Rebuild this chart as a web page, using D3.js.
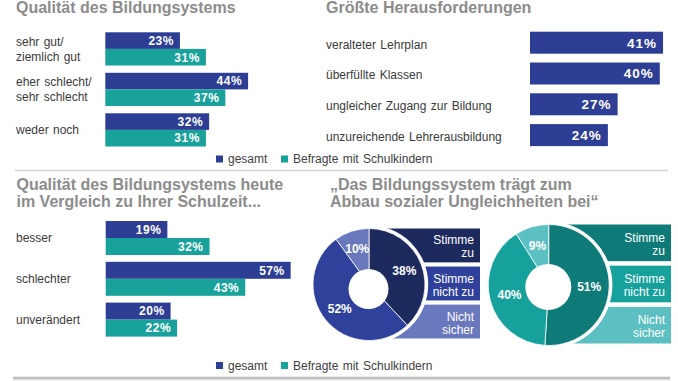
<!DOCTYPE html>
<html>
<head>
<meta charset="utf-8">
<script src="https://cdn.jsdelivr.net/npm/d3@7"></script>
<style>
html,body{margin:0;padding:0;background:#fff;}
svg{display:block;font-family:"Liberation Sans",Arial,sans-serif;}
</style>
</head>
<body>
<svg id="chart" width="678" height="381"></svg>
<script>
// ---- data ----
const seriesNames = ["gesamt", "Befragte mit Schulkindern"];
const qualCats = [["sehr gut/", "ziemlich gut"], ["eher schlecht/", "sehr schlecht"], ["weder noch"]];
const qualGesamt = [23, 44, 32];
const qualEltern = [31, 37, 31];
const challCats = ["veralteter Lehrplan", "überfüllte Klassen", "ungleicher Zugang zur Bildung", "unzureichende Lehrerausbildung"];
const challValues = [41, 40, 27, 24];
const compCats = ["besser", "schlechter", "unverändert"];
const compGesamt = [19, 57, 20];
const compEltern = [32, 43, 22];
const donutCats = [["Stimme", "zu"], ["Stimme", "nicht zu"], ["Nicht", "sicher"]];
const donutGesamt = [38, 52, 10];
const donutEltern = [51, 40, 9];
const titles = {
  qual: ["Qualität des Bildungsystems"],
  chall: ["Größte Herausforderungen"],
  comp: ["Qualität des Bildungsystems heute", "im Vergleich zu Ihrer Schulzeit..."],
  donut: ["„Das Bildungssystem trägt zum", "Abbau sozialer Ungleichheiten bei“"]
};

// ---- style ----
const C_GES = "#2d3e94", C_ELT = "#18a29b";
const DONUT1 = ["#1d2a5d", "#2f419b", "#6a78be"];
const DONUT2 = ["#0e7b78", "#16a19c", "#5cbfc1"];
const TITLE_C = "#8c8c8c", LABEL_C = "#3a3a3a";

const svg = d3.select("#chart");
const pct = d => d + "%";

function title(lines, x, y0) {
  const t = svg.append("text").attr("x", x).attr("fill", TITLE_C)
    .attr("font-weight", "bold").attr("font-size", 16);
  lines.forEach((l, i) => t.append("tspan").attr("x", x).attr("y", y0 + i * 17).text(l));
}

function groupedBars(cats, v1, v2, x0, yRange, padInner) {
  const x = d3.scaleLinear().domain([0, 100]).range([x0, x0 + 324.5]);
  const y = d3.scaleBand().domain(d3.range(cats.length)).range(yRange).paddingInner(padInner);
  const ys = d3.scaleBand().domain([0, 1]).range([0, y.bandwidth()]);
  const g = svg.append("g");
  cats.forEach((c, i) => {
    const cy = y(i) + y.bandwidth() / 2;
    const t = g.append("text").attr("fill", LABEL_C).attr("font-size", 12).attr("word-spacing", 1);
    const lines = Array.isArray(c) ? c : [c];
    if (lines.length === 1) t.append("tspan").attr("x", 16).attr("y", cy + 4).text(lines[0]);
    else lines.forEach((l, k) => t.append("tspan").attr("x", 16).attr("y", cy - 3 + k * 15).text(l));
    [[v1[i], C_GES], [v2[i], C_ELT]].forEach(([v, col], s) => {
      const by = y(i) + ys(s);
      g.append("rect").attr("x", x(0)).attr("y", by).attr("width", x(v) - x(0))
        .attr("height", ys.bandwidth()).attr("fill", col);
      g.append("text").attr("x", x(v) - 6).attr("y", by + ys.bandwidth() / 2 + 4.3)
        .attr("text-anchor", "end").attr("fill", "#fff").attr("font-weight", "bold")
        .attr("font-size", 12).attr("letter-spacing", 0.5).text(pct(v));
    });
  });
}

function legend(y) {
  const items = [[seriesNames[0], C_GES, 216, 228], [seriesNames[1], C_ELT, 281, 293]];
  items.forEach(([name, col, sx, tx]) => {
    svg.append("rect").attr("x", sx).attr("y", y - 3.5).attr("width", 7).attr("height", 7).attr("fill", col);
    svg.append("text").attr("x", tx).attr("y", y + 4).attr("font-size", 12).attr("word-spacing", 1)
      .attr("fill", "#404040").text(name);
  });
}

function donut(values, colors, cx, cy, r, holeDx, holeDy, holeR, labelR, boxRight) {
  // boxes
  const yb = d3.scaleBand().domain(d3.range(donutCats.length)).range([cy - r, cy + r - 2]).paddingInner(0.11);
  donutCats.forEach((c, i) => {
    svg.append("rect").attr("x", cx).attr("y", yb(i)).attr("width", boxRight - cx)
      .attr("height", yb.bandwidth()).attr("fill", colors[i]);
    const t = svg.append("text").attr("text-anchor", "end").attr("fill", "#fff").attr("font-size", 12);
    const mid = yb(i) + yb.bandwidth() / 2;
    c.forEach((l, k) => t.append("tspan").attr("x", boxRight - 6).attr("y", mid - 1 + k * 13).text(l));
  });
  svg.append("circle").attr("cx", cx).attr("cy", cy).attr("r", r + 3.2).attr("fill", "#fff");
  const pie = d3.pie().sort(null).value(d => d)(values);
  const arc = d3.arc().innerRadius(0).outerRadius(r);
  const g = svg.append("g").attr("transform", `translate(${cx},${cy})`);
  g.selectAll("path").data(pie).join("path").attr("d", arc)
    .attr("fill", (d, i) => colors[i]).attr("stroke", "#fff").attr("stroke-width", 0.8);
  g.append("circle").attr("cx", holeDx).attr("cy", holeDy).attr("r", holeR).attr("fill", "#fff");
  const la = d3.arc().innerRadius(labelR).outerRadius(labelR);
  g.selectAll("text.v").data(pie).join("text").attr("class", "v")
    .attr("x", d => la.centroid(d)[0]).attr("y", d => la.centroid(d)[1] + 4.3)
    .attr("text-anchor", "middle").attr("fill", "#fff").attr("font-weight", "bold")
    .attr("font-size", 12).text(d => pct(d.data));
}

// ---- panels ----
title(titles.qual, 16, 13);
groupedBars(qualCats, qualGesamt, qualEltern, 105.3, [32.3, 146.5], 0.18);
legend(159);

title(titles.chall, 326, 13);
(function () {
  const x = d3.scaleLinear().domain([0, 100]).range([530, 530 + 324.5]);
  const y = d3.scaleBand().domain(challCats).range([31.7, 146.1]).paddingInner(0.286);
  challCats.forEach((c, i) => {
    const cy = y(c) + y.bandwidth() / 2;
    svg.append("text").attr("x", 326).attr("y", cy + 6).attr("fill", LABEL_C)
      .attr("font-size", 12).attr("word-spacing", 1).text(c);
    svg.append("rect").attr("x", x(0)).attr("y", y(c)).attr("width", x(challValues[i]) - x(0))
      .attr("height", y.bandwidth()).attr("fill", C_GES);
    svg.append("text").attr("x", x(challValues[i]) - 6).attr("y", cy + 5)
      .attr("text-anchor", "end").attr("fill", "#fff").attr("font-weight", "bold")
      .attr("font-size", 13.5).attr("letter-spacing", 1).text(pct(challValues[i]));
  });
})();

// separators
svg.append("line").attr("x1", 15).attr("x2", 668).attr("y1", 170.5).attr("y2", 170.5)
  .attr("stroke", "#d2d2d2").attr("stroke-width", 1.5);
svg.append("line").attr("x1", 13).attr("x2", 670).attr("y1", 377.8).attr("y2", 377.8)
  .attr("stroke", "#bdbdbd").attr("stroke-width", 2.2);
svg.append("line").attr("x1", 13).attr("x2", 670).attr("y1", 379.8).attr("y2", 379.8)
  .attr("stroke", "#e2e2e2").attr("stroke-width", 1.5);

title(titles.comp, 16.5, 189.5);
groupedBars(compCats, compGesamt, compEltern, 105.7, [221, 336.6], 0.167);
legend(365.5);

title(titles.donut, 330, 189.5);
donut(donutGesamt, DONUT1, 369, 284.5, 56, -0.5, 4.5, 20, 38, 480);
donut(donutEltern, DONUT2, 548.7, 285, 60.5, -0.4, 2, 23, 40.5, 671);
</script>
</body>
</html>
